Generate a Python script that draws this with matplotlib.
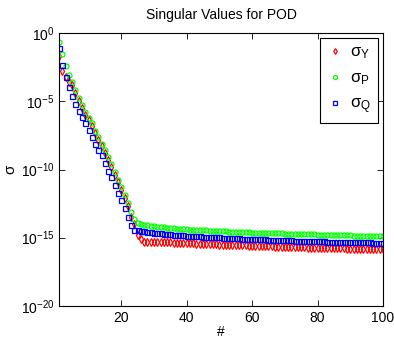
import numpy as np
import matplotlib
matplotlib.use("Agg")
import matplotlib.pyplot as plt
from matplotlib.ticker import NullLocator

plt.rcParams['font.family'] = ['Liberation Sans', 'DejaVu Sans']
plt.rcParams['mathtext.fontset'] = 'custom'
plt.rcParams['mathtext.rm'] = 'Liberation Sans'
plt.rcParams['mathtext.it'] = 'Liberation Sans'
plt.rcParams['mathtext.default'] = 'regular'

# log10 of the singular values, index 1..100
exp_Y = [-1.66, -2.76, -3.25, -3.55, -3.82, -4.40, -4.98, -5.50, -5.98, -6.40,
         -6.82, -7.35, -7.82, -8.30, -8.80, -9.30, -9.82, -10.38, -10.95, -11.50,
         -12.08, -12.68, -13.45, -14.00, -14.80, -15.10, -15.28, -15.31, -15.32, -15.33,
         -15.33, -15.34, -15.34, -15.35, -15.35, -15.36, -15.37, -15.38, -15.39, -15.40,
         -15.41, -15.42, -15.43, -15.44, -15.45, -15.46, -15.47, -15.48, -15.49, -15.50,
         -15.51, -15.52, -15.53, -15.54, -15.55, -15.56, -15.57, -15.57, -15.58, -15.59,
         -15.60, -15.61, -15.62, -15.62, -15.63, -15.64, -15.65, -15.65, -15.66, -15.67,
         -15.68, -15.68, -15.69, -15.70, -15.70, -15.71, -15.72, -15.72, -15.73, -15.74,
         -15.74, -15.75, -15.76, -15.76, -15.77, -15.78, -15.78, -15.79, -15.80, -15.80,
         -15.81, -15.81, -15.82, -15.82, -15.83, -15.83, -15.84, -15.84, -15.85, -15.85]

exp_P = [-0.62, -1.50, -2.40, -3.05, -3.62, -4.20, -4.78, -5.30, -5.78, -6.20,
         -6.62, -7.15, -7.62, -8.10, -8.60, -9.10, -9.62, -10.18, -10.75, -11.30,
         -11.88, -12.48, -13.10, -13.62, -13.92, -14.00, -14.05, -14.10, -14.13, -14.16,
         -14.19, -14.22, -14.24, -14.27, -14.29, -14.31, -14.33, -14.35, -14.37, -14.39,
         -14.40, -14.42, -14.43, -14.45, -14.46, -14.47, -14.49, -14.50, -14.51, -14.52,
         -14.53, -14.54, -14.55, -14.56, -14.57, -14.58, -14.59, -14.60, -14.61, -14.62,
         -14.63, -14.64, -14.64, -14.65, -14.66, -14.67, -14.68, -14.68, -14.69, -14.70,
         -14.71, -14.71, -14.72, -14.73, -14.73, -14.74, -14.75, -14.75, -14.76, -14.77,
         -14.77, -14.78, -14.79, -14.79, -14.80, -14.81, -14.81, -14.82, -14.83, -14.83,
         -14.84, -14.84, -14.85, -14.85, -14.86, -14.86, -14.87, -14.87, -14.88, -14.88]

exp_Q = [-1.08, -2.34, -3.20, -3.95, -4.60, -5.19, -5.72, -6.18, -6.62, -7.08,
         -7.60, -8.13, -8.57, -8.94, -9.55, -10.09, -10.57, -11.15, -11.75, -12.23,
         -12.85, -13.50, -14.10, -14.42, -14.47, -14.50, -14.53, -14.56, -14.59, -14.62,
         -14.65, -14.68, -14.70, -14.73, -14.75, -14.77, -14.79, -14.81, -14.83, -14.85,
         -14.86, -14.88, -14.89, -14.91, -14.92, -14.93, -14.95, -14.96, -14.97, -14.98,
         -14.99, -15.00, -15.02, -15.03, -15.04, -15.05, -15.06, -15.07, -15.08, -15.09,
         -15.10, -15.11, -15.12, -15.13, -15.14, -15.15, -15.16, -15.17, -15.17, -15.18,
         -15.19, -15.20, -15.21, -15.22, -15.22, -15.23, -15.24, -15.25, -15.25, -15.26,
         -15.27, -15.27, -15.28, -15.29, -15.29, -15.30, -15.31, -15.31, -15.32, -15.32,
         -15.33, -15.33, -15.34, -15.34, -15.35, -15.35, -15.36, -15.36, -15.37, -15.37]

idx = np.arange(1, len(exp_Y) + 1)
x_ticks = [20, 40, 60, 80, 100]
y_ticks = [1e-20, 1e-15, 1e-10, 1e-5, 1e0]

fig = plt.figure(figsize=(3.94, 3.38), dpi=100)
ax = fig.add_axes([0.150, 0.095, 0.822, 0.807])

mk = dict(linestyle='none', markerfacecolor='none', markersize=3.6, markeredgewidth=0.9)
ax.semilogy(idx, 10.0 ** np.array(exp_Y), marker='d', color='red', label=r'σ$_{Y}$', **mk)
ax.semilogy(idx, 10.0 ** np.array(exp_P), marker='o', color='#00ff00', label=r'σ$_{P}$', **mk)
ax.semilogy(idx, 10.0 ** np.array(exp_Q), marker='s', color='blue', label=r'σ$_{Q}$', **mk)

ax.set_xlim(1, 100)
ax.set_ylim(1e-20, 1e0)
ax.set_xticks(x_ticks)
ax.set_yticks(y_ticks)
ax.yaxis.set_minor_locator(NullLocator())
ax.tick_params(direction='in', top=True, right=True, length=4, width=0.6, labelsize=10)
for s in ax.spines.values():
    s.set_linewidth(0.8)

ax.set_title('Singular Values for POD', fontsize=10, pad=10)
ax.set_xlabel('#', fontsize=10, labelpad=0)
ax.set_ylabel('σ', fontsize=11, labelpad=2)

leg = ax.legend(loc='upper right', fontsize=12, fancybox=False, framealpha=1,
                edgecolor='black', handlelength=0.9, handletextpad=0.5,
                borderpad=0.4, labelspacing=0.55, borderaxespad=0.3, markerscale=0.8)
leg.get_frame().set_linewidth(0.8)

fig.savefig('out.png', dpi=100)
